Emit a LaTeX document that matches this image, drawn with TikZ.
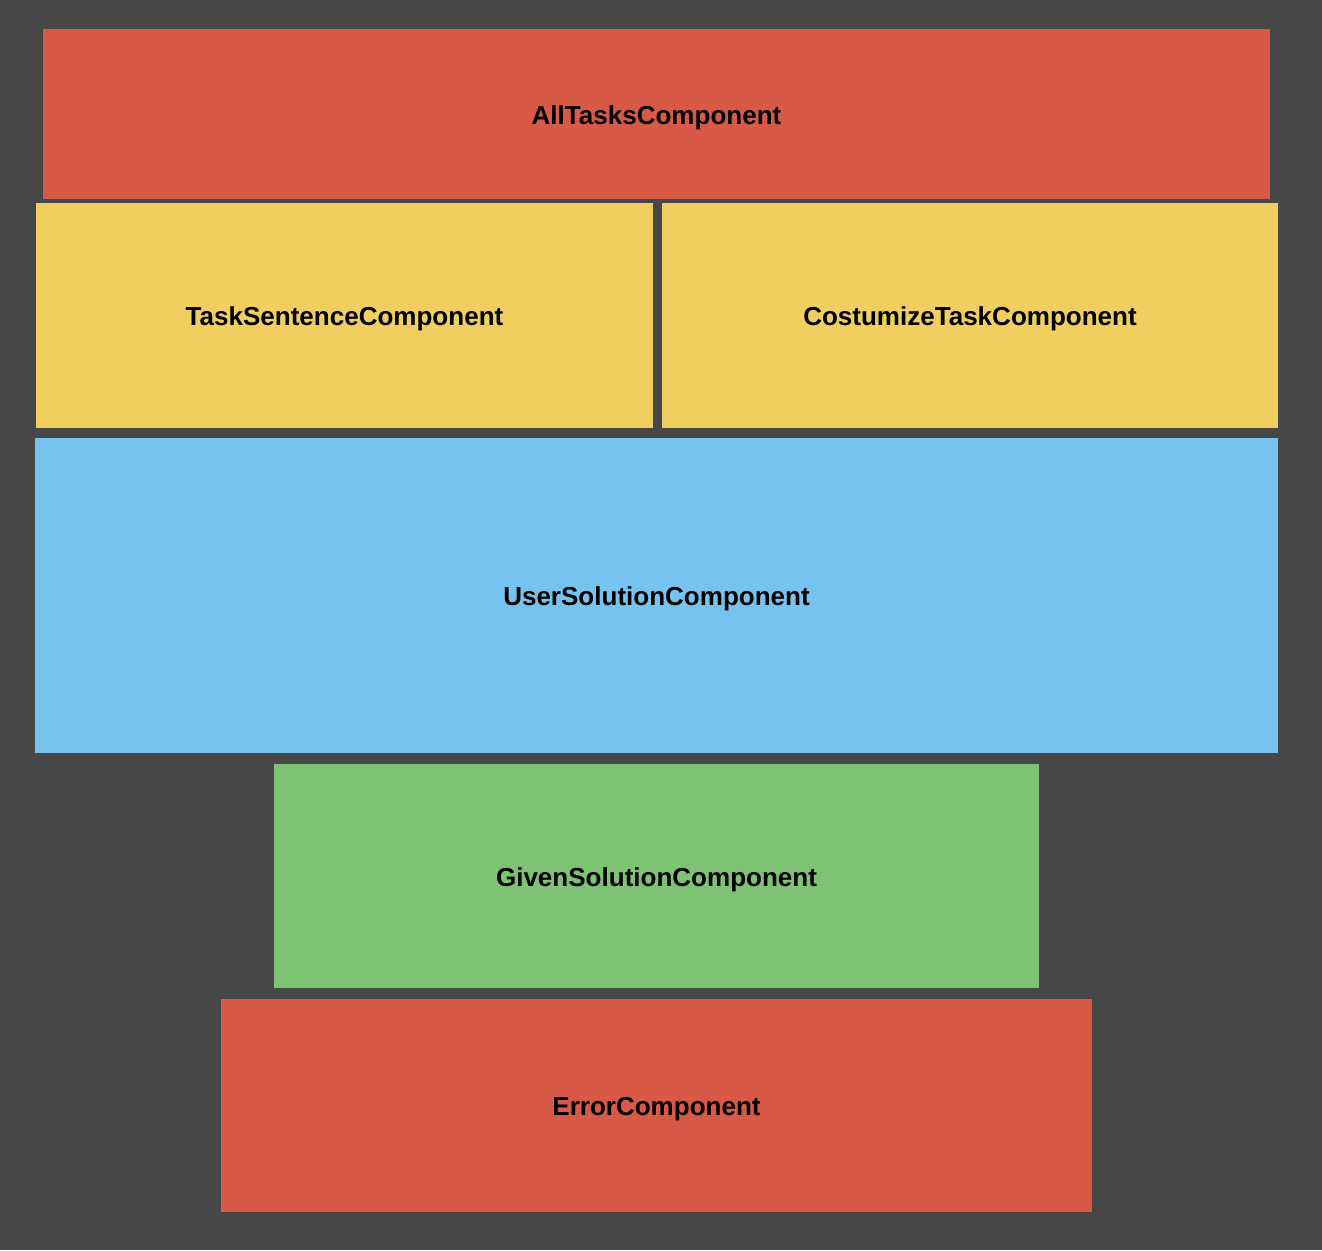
\documentclass[tikz,border=0pt]{standalone}
\usepackage{fontspec}
\setmainfont{Liberation Sans}

\definecolor{bgdark}{HTML}{474747}
\definecolor{compred}{HTML}{D95947}
\definecolor{compyellow}{HTML}{F0CF60}
\definecolor{compblue}{HTML}{77C3F0}
\definecolor{compgreen}{HTML}{7DC373}

\tikzset{
  comp/.style={inner sep=0pt, draw=none, text=black, text height=1.5ex, text depth=0.4ex,
    font=\bfseries\fontsize{7.4}{8.5}\selectfont}
}

\begin{document}
\begin{tikzpicture}[x=0.01cm, y=-0.01cm]
        \fill[bgdark] (0,0) rectangle (1322,1250);
        \node[comp, fill=compred, minimum width=12.27cm, minimum height=1.70cm] (alltasks) at (656.5,114) {AllTasksComponent};
        \node[comp, fill=compyellow, minimum width=6.17cm, minimum height=2.25cm] (tasksentence) at (344.5,315.5) {TaskSentenceComponent};
        \node[comp, fill=compyellow, minimum width=6.16cm, minimum height=2.25cm] (costumize) at (970,315.5) {CostumizeTaskComponent};
        \node[comp, fill=compblue, minimum width=12.43cm, minimum height=3.15cm] (usersolution) at (656.5,595.5) {UserSolutionComponent};
        \node[comp, fill=compgreen, minimum width=7.65cm, minimum height=2.24cm] (givensolution) at (656.5,876) {GivenSolutionComponent};
        \node[comp, fill=compred, minimum width=8.71cm, minimum height=2.13cm] (error) at (656.5,1105.5) {ErrorComponent};
\end{tikzpicture}
\end{document}
